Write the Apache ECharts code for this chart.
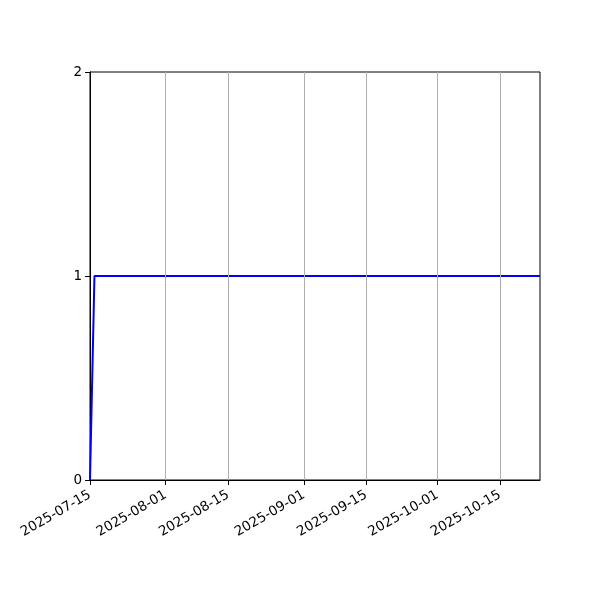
<!DOCTYPE html>
<html>
<head>
<meta charset="utf-8">
<script src="https://cdn.jsdelivr.net/npm/echarts@6/dist/echarts.min.js"></script>
<style>html,body{margin:0;padding:0;background:#fff}#c{width:600px;height:600px}</style>
</head>
<body>
<div id="c"></div>
<script>
var dates = ['2025-07-15', '2025-07-16', '2025-10-24'];
var values = [0, 1, 1];
var xTickDates = ['2025-07-15', '2025-08-01', '2025-08-15', '2025-09-01', '2025-09-15', '2025-10-01', '2025-10-15'];
var yTicks = [0, 1, 2];
var xMin = '2025-07-15';
var xMax = '2025-10-24';

function ts(s) { var p = s.split('-'); return Date.UTC(+p[0], +p[1] - 1, +p[2]); }
function pad(n) { return (n < 10 ? '0' : '') + n; }
function fmt(v) { var d = new Date(v); return d.getUTCFullYear() + '-' + pad(d.getUTCMonth() + 1) + '-' + pad(d.getUTCDate()); }

var chart = echarts.init(document.getElementById('c'), null, { renderer: 'canvas' });
var tickTs = xTickDates.map(ts);
chart.setOption({
  animation: false,
  backgroundColor: '#fff',
  grid: { left: 90, right: 60, top: 72, bottom: 120, show: true, borderColor: '#000', borderWidth: 1, backgroundColor: 'transparent' },
  xAxis: {
    type: 'value',
    min: ts(xMin),
    max: ts(xMax),
    axisLine: { show: true, lineStyle: { color: '#000', width: 1 } },
    axisTick: { show: true, customValues: tickTs, length: 5, lineStyle: { color: '#000' } },
    axisLabel: { customValues: tickTs, rotate: 30, formatter: function (v) { return fmt(v); }, color: '#000', fontFamily: 'DejaVu Sans', fontSize: 13.5, margin: 14, hideOverlap: false },
    splitLine: { show: false }
  },
  yAxis: {
    type: 'value',
    min: yTicks[0],
    max: yTicks[yTicks.length - 1],
    interval: 1,
    axisLine: { show: true, lineStyle: { color: '#000', width: 1 } },
    axisTick: { show: true, length: 5, lineStyle: { color: '#000' } },
    axisLabel: { color: '#000', fontFamily: 'DejaVu Sans', fontSize: 13.5, margin: 8 },
    splitLine: { show: false }
  },
  series: [{
    type: 'line',
    z: 1,
    data: [],
    markLine: {
      silent: true,
      symbol: 'none',
      label: { show: false },
      lineStyle: { color: '#b0b0b0', width: 1, type: 'solid' },
      data: tickTs.slice(1).map(function (t) { return { xAxis: t }; })
    }
  }, {
    type: 'line',
    z: 3,
    data: dates.map(function (d, i) { return [ts(d), values[i]]; }),
    showSymbol: false,
    lineStyle: { color: '#0000ff', width: 2 },
    itemStyle: { color: '#0000ff' }
  }]
});
</script>
</body>
</html>
